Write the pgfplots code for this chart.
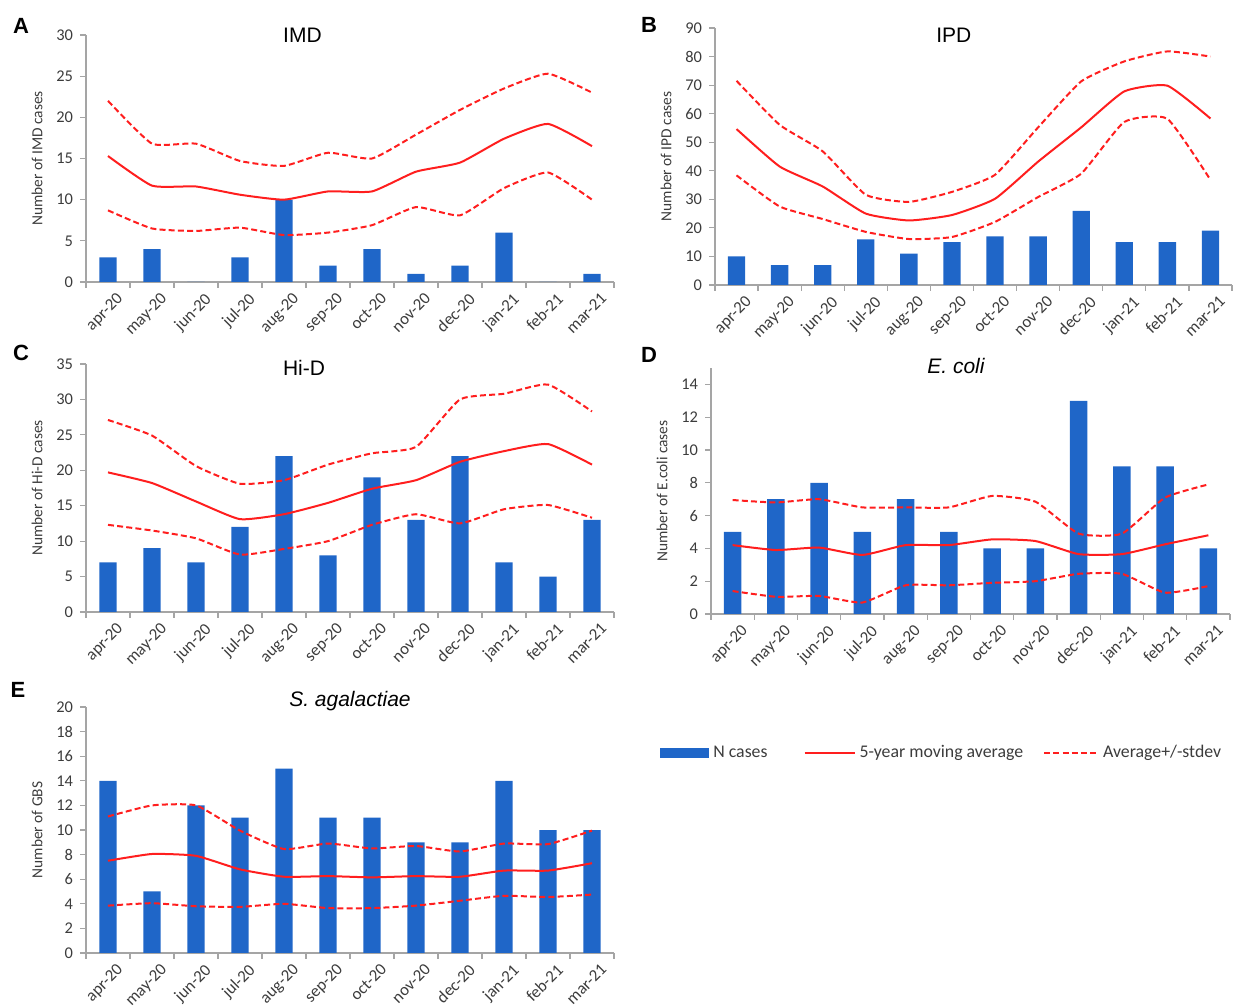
\documentclass[border=0pt]{standalone}
\usepackage{pgfplots}
\usepackage{pgfplotstable}
\pgfplotsset{compat=1.18}
\usepackage{fontspec}
\setmainfont{Carlito}
\newfontfamily\arialfont{Liberation Sans}
\definecolor{barblue}{RGB}{31,102,200}
\definecolor{linered}{RGB}{255,30,30}
\definecolor{axgray}{RGB}{165,165,165}
\definecolor{txtgray}{RGB}{60,60,60}

\pgfplotstableread{
x bar mean up lo
0 3 15.3 22.0 8.7
1 4 11.7 16.8 6.5
2 0 11.6 16.8 6.2
3 3 10.6 14.7 6.6
4 10 10.0 14.1 5.7
5 2 11.0 15.7 6.0
6 4 11.0 15.0 6.9
7 1 13.4 17.9 9.1
8 2 14.5 20.9 8.1
9 6 17.4 23.5 11.4
10 0 19.2 25.3 13.3
11 1 16.5 23.0 10.0
}\tabA
\pgfplotstableread{
x bar mean up lo
0 10 54.6 71.5 38.4
1 7 41.5 56.1 27.5
2 7 34.5 46.8 23.1
3 16 25.0 31.6 18.6
4 11 22.6 29.1 16.1
5 15 24.5 32.6 16.8
6 17 30.2 38.6 22.1
7 17 43.2 55.2 30.8
8 26 55.2 71.3 39.0
9 15 67.8 78.3 57.1
10 15 69.8 81.8 58.2
11 19 58.3 80.0 36.8
}\tabB
\pgfplotstableread{
x bar mean up lo
0 7 19.7 27.1 12.3
1 9 18.2 24.9 11.5
2 7 15.6 20.6 10.4
3 12 13.1 18.1 8.1
4 22 13.8 18.6 8.9
5 8 15.4 20.8 10.0
6 19 17.4 22.4 12.3
7 13 18.6 23.3 13.8
8 22 21.2 30.0 12.5
9 7 22.7 30.8 14.5
10 5 23.7 32.1 15.1
11 13 20.8 28.3 13.3
}\tabC
\pgfplotstableread{
x bar mean up lo
0 5 4.2 6.95 1.4
1 7 3.9 6.8 1.05
2 8 4.05 7.0 1.1
3 5 3.6 6.5 0.7
4 7 4.2 6.5 1.75
5 5 4.2 6.5 1.75
6 4 4.55 7.2 1.9
7 4 4.45 6.85 2.0
8 13 3.65 4.9 2.45
9 9 3.65 4.9 2.45
10 9 4.25 7.1 1.3
11 4 4.8 7.9 1.7
}\tabD
\pgfplotstableread{
x bar mean up lo
0 14 7.5 11.1 3.85
1 5 8.05 12.0 4.05
2 12 7.9 12.0 3.8
3 11 6.8 9.95 3.75
4 15 6.2 8.45 4.0
5 11 6.25 8.9 3.65
6 11 6.15 8.5 3.65
7 9 6.25 8.7 3.85
8 9 6.2 8.25 4.25
9 14 6.7 8.9 4.65
10 10 6.7 8.85 4.55
11 10 7.3 9.95 4.75
}\tabE

\pgfplotsset{
  panel/.style={
    scale only axis,
    anchor=south west,
    xmin=-0.5, xmax=11.5,
    ymin=0,
    axis x line*=bottom, axis y line*=left,
    axis line style={draw=axgray, line width=0.6pt, -},
    every outer x axis line/.append style={-},
    every outer y axis line/.append style={-},
    xtick={0,...,11},
    xticklabels={apr-20,may-20,jun-20,jul-20,aug-20,sep-20,oct-20,nov-20,dec-20,jan-21,feb-21,mar-21},
    minor xtick={-0.5,0.5,...,11.5},
    major x tick style={draw=none},
    minor x tick style={draw=axgray, line width=0.6pt},
    y tick style={draw=axgray, line width=0.6pt},
    tick align=outside,
    major tick length=3pt, minor tick length=3pt,
    xticklabel style={rotate=45, anchor=north east, inner sep=0.5pt, xshift=2pt, yshift=-3.5pt, font=\fontsize{8.4}{9}\selectfont, text=txtgray},
    yticklabel style={font=\fontsize{8.2}{9}\selectfont, text=txtgray},
    /pgf/number format/assume math mode=true,
    ylabel style={font=\fontsize{7.7}{9}\selectfont, text=txtgray},
    title style={font=\arialfont\fontsize{10.5}{12}\selectfont, anchor=center},
  },
  barp/.style={ybar, bar width=8.7pt, fill=barblue, draw=none},
  meanp/.style={linered, line width=1pt, smooth, tension=0.3},
  sdp/.style={linered, line width=1pt, dash pattern=on 3pt off 1.6pt, smooth, tension=0.3},
}

\begin{document}
\begin{tikzpicture}
\useasboundingbox (0,0) rectangle (625pt,504pt);

% A
\begin{axis}[panel, at={(43pt,363pt)}, width=264pt, height=123.5pt,
  ymax=30, ytick={0,5,...,30}, ylabel={Number of IMD cases},
  title={IMD}, title style={at={(0.41,0.95)}}]
\addplot[barp] table[x=x,y=bar]{\tabA};
\addplot[meanp] table[x=x,y=mean]{\tabA};
\addplot[sdp] table[x=x,y=up]{\tabA};
\addplot[sdp] table[x=x,y=lo]{\tabA};
\end{axis}

% B
\begin{axis}[panel, at={(357.5pt,361.5pt)}, width=258.5pt, height=128.5pt,
  ymax=90, ytick={0,10,...,90}, ylabel={Number of IPD cases},
  title={IPD}, title style={at={(0.462,0.926)}}]
\addplot[barp] table[x=x,y=bar]{\tabB};
\addplot[meanp] table[x=x,y=mean]{\tabB};
\addplot[sdp] table[x=x,y=up]{\tabB};
\addplot[sdp] table[x=x,y=lo]{\tabB};
\end{axis}

% C
\begin{axis}[panel, at={(43pt,198pt)}, width=264pt, height=124pt,
  ymax=35, ytick={0,5,...,35}, ylabel={Number of Hi-D cases},
  title={Hi-D}, title style={at={(0.413,0.935)}}]
\addplot[barp] table[x=x,y=bar]{\tabC};
\addplot[meanp] table[x=x,y=mean]{\tabC};
\addplot[sdp] table[x=x,y=up]{\tabC};
\addplot[sdp] table[x=x,y=lo]{\tabC};
\end{axis}

% D
\begin{axis}[panel, at={(355.5pt,197pt)}, width=259.5pt, height=123pt,
  ymax=15, ytick={0,2,...,14}, ylabel={Number of E.coli cases},
  title={\itshape E. coli}, title style={at={(0.472,0.96)}}]
\addplot[barp] table[x=x,y=bar]{\tabD};
\addplot[meanp] table[x=x,y=mean]{\tabD};
\addplot[sdp] table[x=x,y=up]{\tabD};
\addplot[sdp] table[x=x,y=lo]{\tabD};
\end{axis}

% E
\begin{axis}[panel, at={(43pt,27.5pt)}, width=264pt, height=123pt,
  ymax=20, ytick={0,2,...,20}, ylabel={Number of GBS},
  title={\itshape S. agalactiae}, title style={at={(0.5,0.976)}},
  legend style={at={(1.087,0.813)}, anchor=west, draw=none, fill=none,
    font=\fontsize{8.9}{11}\selectfont, text=txtgray, legend columns=3,
    /tikz/every even column/.append style={column sep=8pt},
    inner sep=0pt, legend cell align=left}]
\addplot[barp, legend image code/.code={\fill[barblue] (0pt,-2.4pt) rectangle (24.5pt,2.4pt);}] table[x=x,y=bar]{\tabE};
\addlegendentry{N cases\hspace*{8pt}}
\addplot[meanp, legend image code/.code={\draw[linered, line width=1pt] (0pt,0pt) -- (25pt,0pt);}] table[x=x,y=mean]{\tabE};
\addlegendentry{5-year moving average}
\addplot[sdp, legend image code/.code={\draw[linered, line width=1pt, dash pattern=on 3pt off 1.6pt] (0pt,0pt) -- (27pt,0pt);}] table[x=x,y=up]{\tabE};
\addlegendentry{Average+/-stdev}
\addplot[sdp, forget plot] table[x=x,y=lo]{\tabE};
\end{axis}

\begin{scope}[every node/.style={font=\arialfont\bfseries\fontsize{11}{12}\selectfont}]
\node at (10.5pt,491pt) {A};
\node at (324.5pt,491.5pt) {B};
\node at (10.5pt,327.5pt) {C};
\node at (324.5pt,326.5pt) {D};
\node at (9pt,159pt) {E};
\end{scope}
\end{tikzpicture}
\end{document}
